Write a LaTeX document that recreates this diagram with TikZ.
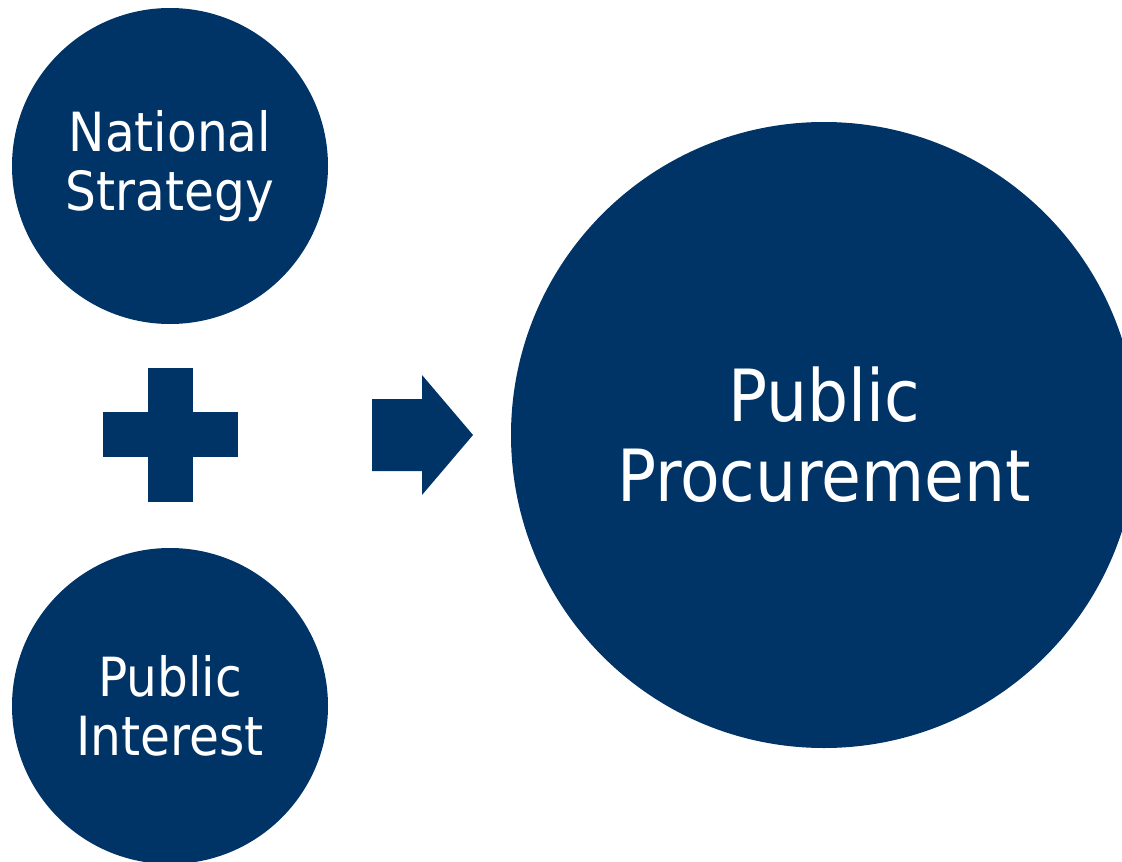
\documentclass[tikz,border=0pt]{standalone}
\usepackage{fontspec}
\setmainfont{DejaVu Sans Condensed}
\usepackage{tikz}
\usetikzlibrary{positioning}

\definecolor{navy}{RGB}{0,51,102}

\tikzset{
  bubble/.style={circle, fill=navy, text=white, align=center, inner sep=0pt},
  smalltext/.style={font=\fontsize{54}{59.5}\selectfont},
  bigtext/.style={font=\fontsize{72}{80}\selectfont}
}

\begin{document}
\begin{tikzpicture}[x=1pt,y=-1pt]
            \useasboundingbox (0,0) rectangle (1122,862);
            \clip (0,0) rectangle (1122,862);
            \node[bubble, minimum size=316pt, smalltext] (strategy) at (170,166) {National\\Strategy};
            \node[bubble, minimum size=316pt, smalltext] (interest) at (170,706) {Public\\Interest};
            \node[bubble, minimum size=626pt, bigtext] (procurement) at (824,435) {Public\\Procurement};
            % plus sign
            \fill[navy] (148,368) rectangle (193,502);
            \fill[navy] (103,412) rectangle (238,457);
            % block arrow
            \fill[navy] (372,399) -- (422,399) -- (422,375) -- (473,435) -- (422,495)
              -- (422,471) -- (372,471) -- cycle;
          \end{tikzpicture}
\end{document}
